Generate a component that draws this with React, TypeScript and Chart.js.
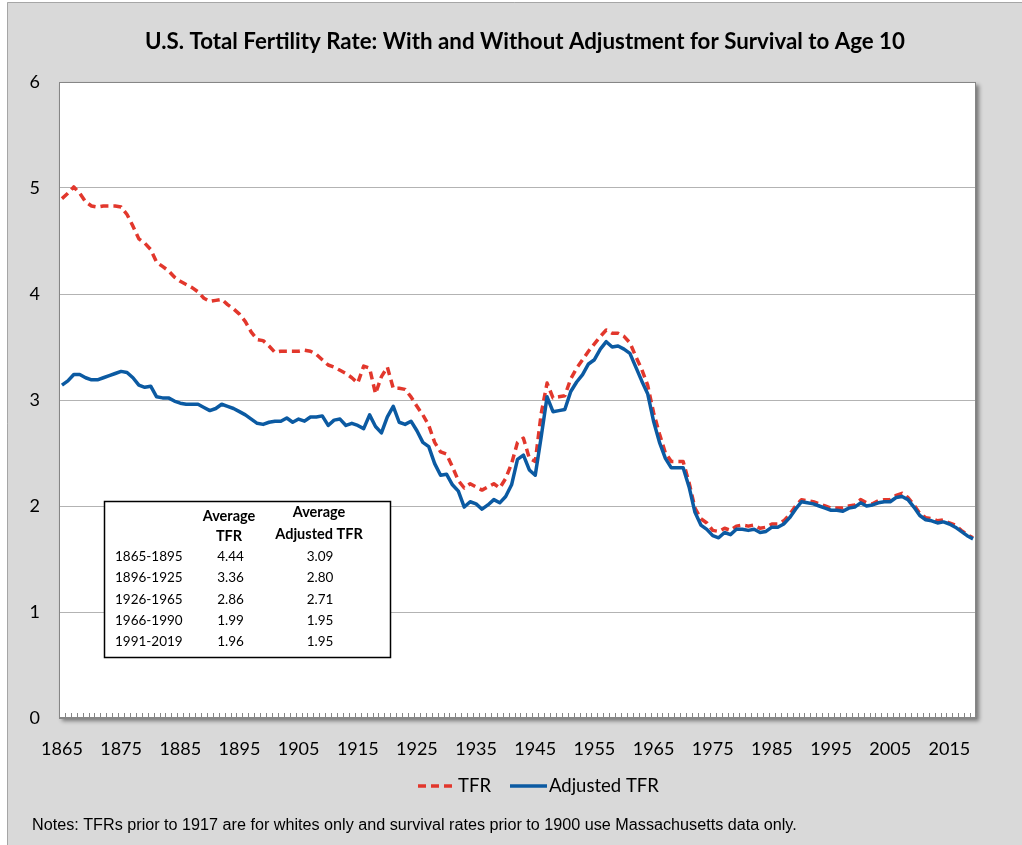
import React, { useEffect, useRef } from 'react';
import { Chart, registerables } from 'chart.js';

Chart.register(...registerables);

const years = [
  '1865', '1866', '1867', '1868', '1869', '1870', '1871', '1872', '1873', '1874',
  '1875', '1876', '1877', '1878', '1879', '1880', '1881', '1882', '1883', '1884',
  '1885', '1886', '1887', '1888', '1889', '1890', '1891', '1892', '1893', '1894',
  '1895', '1896', '1897', '1898', '1899', '1900', '1901', '1902', '1903', '1904',
  '1905', '1906', '1907', '1908', '1909', '1910', '1911', '1912', '1913', '1914',
  '1915', '1916', '1917', '1918', '1919', '1920', '1921', '1922', '1923', '1924',
  '1925', '1926', '1927', '1928', '1929', '1930', '1931', '1932', '1933', '1934',
  '1935', '1936', '1937', '1938', '1939', '1940', '1941', '1942', '1943', '1944',
  '1945', '1946', '1947', '1948', '1949', '1950', '1951', '1952', '1953', '1954',
  '1955', '1956', '1957', '1958', '1959', '1960', '1961', '1962', '1963', '1964',
  '1965', '1966', '1967', '1968', '1969', '1970', '1971', '1972', '1973', '1974',
  '1975', '1976', '1977', '1978', '1979', '1980', '1981', '1982', '1983', '1984',
  '1985', '1986', '1987', '1988', '1989', '1990', '1991', '1992', '1993', '1994',
  '1995', '1996', '1997', '1998', '1999', '2000', '2001', '2002', '2003', '2004',
  '2005', '2006', '2007', '2008', '2009', '2010', '2011', '2012', '2013', '2014',
  '2015', '2016', '2017', '2018', '2019',
];

const xTickLabels = ['1865', '1875', '1885', '1895', '1905', '1915', '1925', '1935', '1945', '1955', '1965', '1975', '1985', '1995', '2005', '2015'];

const tfr = [
  4.90, 4.95, 5.01, 4.95, 4.87, 4.83, 4.82, 4.83, 4.83, 4.83,
  4.82, 4.75, 4.64, 4.52, 4.48, 4.42, 4.30, 4.26, 4.22, 4.16,
  4.12, 4.09, 4.06, 4.02, 3.96, 3.93, 3.94, 3.95, 3.90, 3.86,
  3.81, 3.74, 3.64, 3.57, 3.56, 3.51, 3.45, 3.46, 3.46, 3.46,
  3.46, 3.47, 3.46, 3.43, 3.38, 3.33, 3.31, 3.28, 3.25, 3.21,
  3.16, 3.32, 3.30, 3.06, 3.22, 3.31, 3.11, 3.11, 3.10, 3.03,
  2.94, 2.86, 2.76, 2.60, 2.51, 2.49, 2.37, 2.24, 2.17, 2.21,
  2.18, 2.15, 2.18, 2.21, 2.17, 2.26, 2.40, 2.60, 2.64, 2.45,
  2.42, 2.87, 3.16, 3.02, 3.03, 3.04, 3.20, 3.30, 3.38, 3.46,
  3.53, 3.60, 3.66, 3.63, 3.63, 3.60, 3.54, 3.41, 3.29, 3.14,
  2.88, 2.68, 2.50, 2.42, 2.42, 2.42, 2.22, 1.98, 1.88, 1.84,
  1.77, 1.76, 1.79, 1.77, 1.81, 1.82, 1.81, 1.82, 1.79, 1.80,
  1.83, 1.83, 1.86, 1.92, 2.00, 2.06, 2.05, 2.04, 2.02, 2.00,
  1.98, 1.98, 1.98, 2.00, 2.01, 2.06, 2.03, 2.02, 2.05, 2.06,
  2.06, 2.10, 2.12, 2.08, 2.01, 1.93, 1.89, 1.88, 1.86, 1.87,
  1.84, 1.82, 1.77, 1.73, 1.70,
];

const adjustedTfr = [
  3.14, 3.18, 3.24, 3.24, 3.21, 3.19, 3.19, 3.21, 3.23, 3.25,
  3.27, 3.26, 3.21, 3.14, 3.12, 3.13, 3.03, 3.02, 3.02, 2.99,
  2.97, 2.96, 2.96, 2.96, 2.93, 2.90, 2.92, 2.96, 2.94, 2.92,
  2.89, 2.86, 2.82, 2.78, 2.77, 2.79, 2.80, 2.80, 2.83, 2.79,
  2.82, 2.80, 2.84, 2.84, 2.85, 2.76, 2.81, 2.82, 2.76, 2.78,
  2.76, 2.73, 2.86, 2.75, 2.69, 2.84, 2.94, 2.79, 2.77, 2.80,
  2.71, 2.60, 2.56, 2.40, 2.29, 2.30, 2.20, 2.14, 1.99, 2.04,
  2.02, 1.97, 2.01, 2.06, 2.03, 2.09, 2.20, 2.44, 2.48, 2.34,
  2.29, 2.65, 3.03, 2.89, 2.90, 2.91, 3.08, 3.17, 3.24, 3.34,
  3.38, 3.48, 3.55, 3.50, 3.51, 3.48, 3.44, 3.31, 3.18, 3.06,
  2.80, 2.60, 2.45, 2.36, 2.36, 2.36, 2.18, 1.94, 1.82, 1.78,
  1.72, 1.70, 1.75, 1.73, 1.78, 1.78, 1.77, 1.78, 1.75, 1.76,
  1.80, 1.80, 1.83, 1.89, 1.97, 2.04, 2.03, 2.02, 2.00, 1.98,
  1.96, 1.96, 1.95, 1.98, 1.99, 2.03, 2.00, 2.01, 2.03, 2.04,
  2.04, 2.08, 2.09, 2.06, 1.99, 1.91, 1.87, 1.86, 1.84, 1.85,
  1.83, 1.80, 1.76, 1.72, 1.69,
];

const seriesLabels = ['TFR', 'Adjusted TFR'];
const seriesColors = ['#e2372c', '#0b5aa2'];

const tablePeriods = ['1865-1895', '1896-1925', '1926-1965', '1966-1990', '1991-2019'];
const tableAvgTfr = ['4.44', '3.36', '2.86', '1.99', '1.96'];
const tableAvgAdjusted = ['3.09', '2.80', '2.71', '1.95', '1.95'];

const titleText = 'U.S. Total Fertility Rate: With and Without Adjustment for Survival to Age 10';
const notesText = 'Notes: TFRs prior to 1917 are for whites only and survival rates prior to 1900 use Massachusetts data only.';

const fitFont = (ctx: CanvasRenderingContext2D, text: string, weight: string, family: string, target: number) => {
  ctx.font = `${weight} 20px ${family}`;
  const w = ctx.measureText(text).width;
  const size = (20 * target) / w;
  return `${weight} ${size.toFixed(2)}px ${family}`;
};

const decorPlugin = {
  id: 'decor',
  beforeDraw(chart: any) {
    const { ctx, width, height, chartArea: a } = chart;
    ctx.save();
    ctx.fillStyle = '#ffffff';
    ctx.fillRect(0, 0, width, height);
    ctx.fillStyle = '#d9d9d9';
    ctx.fillRect(7, 2, width - 7, height - 2);
    ctx.strokeStyle = '#a6a6a6';
    ctx.lineWidth = 1;
    ctx.beginPath();
    ctx.moveTo(7.5, height);
    ctx.lineTo(7.5, 2.5);
    ctx.lineTo(width, 2.5);
    ctx.stroke();
    ctx.shadowColor = 'rgba(0,0,0,0.45)';
    ctx.shadowBlur = 4;
    ctx.shadowOffsetX = 3;
    ctx.shadowOffsetY = 3;
    ctx.fillStyle = '#ffffff';
    ctx.fillRect(a.left, a.top, a.right - a.left, a.bottom - a.top);
    ctx.restore();
  },
  beforeDatasetsDraw(chart: any) {
    const { ctx, chartArea: a } = chart;
    const xs = chart.scales.x;
    ctx.save();
    ctx.strokeStyle = '#868686';
    ctx.lineWidth = 1;
    ctx.strokeRect(Math.round(a.left) + 0.5, Math.round(a.top) + 0.5, Math.round(a.right - a.left) - 1, Math.round(a.bottom - a.top) - 1);
    ctx.beginPath();
    const n = years.length;
    for (let i = 0; i <= n; i++) {
      let x;
      if (i === 0) x = a.left;
      else if (i === n) x = a.right;
      else x = (xs.getPixelForValue(i - 1) + xs.getPixelForValue(i)) / 2;
      const px = Math.round(x) + 0.5;
      ctx.moveTo(px, a.bottom);
      ctx.lineTo(px, a.bottom - 5);
    }
    ctx.stroke();
    ctx.restore();
  },
  afterDraw(chart: any) {
    const { ctx } = chart;
    ctx.save();
    // title
    ctx.fillStyle = '#000000';
    ctx.textBaseline = 'middle';
    ctx.textAlign = 'center';
    ctx.font = fitFont(ctx, titleText, 'bold', 'Lato', 760);
    ctx.fillText(titleText, 525, 42);

    // legend
    const ly = 786;
    ctx.lineWidth = 3.5;
    ctx.strokeStyle = seriesColors[0];
    ctx.setLineDash([8, 5]);
    ctx.beginPath();
    ctx.moveTo(418, ly);
    ctx.lineTo(455, ly);
    ctx.stroke();
    ctx.setLineDash([]);
    ctx.strokeStyle = seriesColors[1];
    ctx.beginPath();
    ctx.moveTo(510, ly);
    ctx.lineTo(547, ly);
    ctx.stroke();
    ctx.font = '18.5px Lato';
    ctx.textAlign = 'left';
    ctx.fillStyle = '#000000';
    ctx.fillText(seriesLabels[0], 458, ly);
    ctx.fillText(seriesLabels[1], 549, ly);

    // notes
    ctx.font = fitFont(ctx, notesText, 'normal', '"Liberation Sans"', 765);
    ctx.fillText(notesText, 32, 826);

    // table
    ctx.fillStyle = '#ffffff';
    ctx.fillRect(104, 501, 286, 156);
    ctx.strokeStyle = '#000000';
    ctx.lineWidth = 1.5;
    ctx.strokeRect(104.5, 501.5, 286, 156);
    ctx.fillStyle = '#000000';
    ctx.textAlign = 'center';
    ctx.font = 'bold 14.5px Lato';
    ctx.fillText('Average', 229, 516);
    ctx.fillText('TFR', 229, 536);
    ctx.fillText('Average', 319, 512);
    ctx.fillText('Adjusted TFR', 319, 534);
    ctx.font = '13.5px Lato';
    const rowY = [557, 578, 599.5, 621, 642];
    tablePeriods.forEach((p, i) => {
      ctx.textAlign = 'left';
      ctx.fillText(p, 115, rowY[i]);
      ctx.textAlign = 'center';
      ctx.fillText(tableAvgTfr[i], 230.5, rowY[i]);
      ctx.fillText(tableAvgAdjusted[i], 320, rowY[i]);
    });
    ctx.restore();
  },
};

export default function App() {
  const canvasRef = useRef<HTMLCanvasElement | null>(null);

  useEffect(() => {
    const canvas = canvasRef.current;
    if (!canvas) return;
    const chart = new Chart(canvas, {
      type: 'line',
      data: {
        labels: years,
        datasets: [
          {
            label: seriesLabels[0],
            data: tfr,
            borderColor: seriesColors[0],
            backgroundColor: seriesColors[0],
            borderWidth: 3.5,
            borderDash: [8, 5],
            pointRadius: 0,
            tension: 0,
            fill: false,
            order: 1,
            borderJoinStyle: 'round',
          },
          {
            label: seriesLabels[1],
            data: adjustedTfr,
            borderColor: seriesColors[1],
            backgroundColor: seriesColors[1],
            borderWidth: 3.5,
            pointRadius: 0,
            tension: 0,
            fill: false,
            order: 0,
            borderJoinStyle: 'round',
          },
        ],
      },
      options: {
        responsive: false,
        animation: false,
        devicePixelRatio: 1,
        layout: { padding: { left: 0, right: 46, top: 82, bottom: 77 } },
        plugins: {
          legend: { display: false },
          title: { display: false },
          tooltip: { enabled: false },
        },
        scales: {
          x: {
            type: 'category',
            offset: true,
            grid: { display: true, drawOnChartArea: false, drawTicks: false, offset: true },
            border: { display: true, color: '#868686', width: 1 },
            ticks: {
              autoSkip: false,
              maxRotation: 0,
              minRotation: 0,
              padding: 20,
              color: '#000000',
              font: { family: 'Lato', size: 18 },
              callback: (_v: any, i: number) => (xTickLabels.includes(years[i]) ? years[i] : ''),
            },
            afterFit: (s: any) => {
              s.height = 50;
            },
          },
          y: {
            min: 0,
            max: 6,
            ticks: {
              stepSize: 1,
              padding: 19,
              color: '#000000',
              font: { family: 'Lato', size: 18 },
            },
            grid: { color: '#b3b3b3', drawTicks: false },
            border: { display: true, color: '#868686', width: 1 },
            afterFit: (s: any) => {
              s.width = 59;
            },
          },
        },
      },
      plugins: [decorPlugin],
    } as any);
    return () => chart.destroy();
  }, []);

  return (
    <div style={{ position: 'absolute', left: 0, top: 0, width: 1022, height: 845 }}>
      <canvas ref={canvasRef} width={1022} height={845} style={{ width: 1022, height: 845, display: 'block' }} />
    </div>
  );
}
